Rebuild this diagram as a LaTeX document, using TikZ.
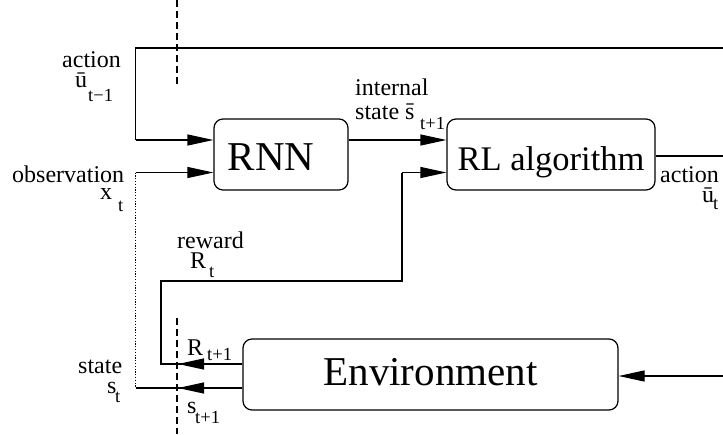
\documentclass[tikz,border=0pt]{standalone}
\usepackage{fontspec}
\setmainfont{Liberation Serif}
\usetikzlibrary{arrows.meta}
\tikzset{
  box/.style={draw, line width=1.2pt, rounded corners=9pt, inner sep=0pt, text depth=0pt},
  lbl/.style={inner sep=0pt, anchor=base west, font=\fontsize{24}{24}\selectfont},
  sub/.style={inner sep=0pt, anchor=base west, font=\fontsize{18.5}{18.5}\selectfont},
  wire/.style={line width=1.2pt},
  arr/.style={wire, -{Triangle[length=26pt,width=11pt]}},
  cut/.style={line width=1.2pt, dash pattern=on 7pt off 4pt},
  trace/.style={line width=1.2pt, dash pattern=on 1.2pt off 1.6pt},
}
\begin{document}
\begin{tikzpicture}[x=1pt, y=-1pt]
\useasboundingbox (0,0) rectangle (723,434);

% blocks
\node[box, minimum width=134pt, minimum height=71pt, text height=31pt,
      font=\fontsize{41}{41}\selectfont] (rnn) at (281,154.5) {RNN\hspace*{20pt}};
\node[box, minimum width=208pt, minimum height=71pt, text height=31pt,
      font=\fontsize{34.5}{34.5}\selectfont] (rl) at (551,154.5) {RL algorithm};
\node[box, minimum width=375pt, minimum height=71pt, text height=21pt,
      font=\fontsize{41}{41}\selectfont] (env) at (430.5,374.5) {Environment};

% free ends and bends
\coordinate (ain)  at (723,48);
\coordinate (abend) at (135.5,48);
\coordinate (obs)  at (135.5,172.5);
\coordinate (st)   at (135.5,388);
\coordinate (rbend1) at (161,364);
\coordinate (rbend2) at (161,281);
\coordinate (rbend3) at (402,281);
\coordinate (rbend4) at (402,172.5);
\coordinate (aout) at (723,156);
\coordinate (envin) at (723,376);
\coordinate (rtip) at (178,364);
\coordinate (stip) at (178,388);

% previous action into the RNN
\draw[wire] (ain) -- (abend) -- (abend |- 0,140);
\draw[arr] (abend |- 0,140) -- ([yshift=14.5pt]rnn.west);
% observation
\draw[arr] (obs) -- ([yshift=-18pt]rnn.west);
\draw[trace] (obs) -- (st);
% internal state
\draw[arr] ([yshift=14.5pt]rnn.east) -- ([yshift=14.5pt]rl.west);
% reward path
\draw[wire] ([yshift=10.5pt]env.west) -- (rbend1) -- (rbend2) -- (rbend3) -- (rbend4);
\draw[arr] (rbend4) -- ([yshift=-18pt]rl.west);
\draw[arr] ([yshift=10.5pt]env.west) -- (rtip);
% state path
\draw[wire] ([yshift=-13.5pt]env.west) -- (st);
\draw[arr] ([yshift=-13.5pt]env.west) -- (stip);
% action out / into environment
\draw[wire] ([yshift=-1.5pt]rl.east) -- (aout);
\draw[arr] (envin) -- ([yshift=-1.5pt]env.east);

% time cuts
\draw[cut] (177,0) -- (177,85);
\draw[cut] (177,318) -- (177,434);

% labels
\node[lbl] (la1) at (62,67) {action};
\node[lbl] (la1u) at (75,87) {ū};
\node[sub] (la1s) at (88,101) {t−1};

\node[lbl] (li1) at (355,95) {internal};
\node[lbl] (li2) at (355,119) {state \=s};
\node[sub] (li2s) at (420,129) {t+1};

\node[lbl] (lo1) at (12,182) {observation};
\node[lbl] (lox) at (100,199) {x};
\node[sub] (lot) at (118,211) {t};

\node[lbl] (la2) at (660,182) {action};
\node[lbl] (la2u) at (702,202) {ū};
\node[sub] (la2t) at (713,209) {t};

\node[lbl] (lr1) at (177,248) {reward};
\node[lbl] (lrR) at (190,268) {R};
\node[sub] (lrt) at (209,277) {t};

\node[lbl] (lR1) at (187,355) {R};
\node[sub] (lR1s) at (207,360) {t+1};

\node[lbl] (ls1) at (78,373) {state};
\node[lbl] (lss) at (107,393) {s};
\node[sub] (lst) at (115,402) {t};

\node[lbl] (ls2) at (187,413) {s};
\node[sub] (ls2s) at (195,423) {t+1};
\end{tikzpicture}
\end{document}
